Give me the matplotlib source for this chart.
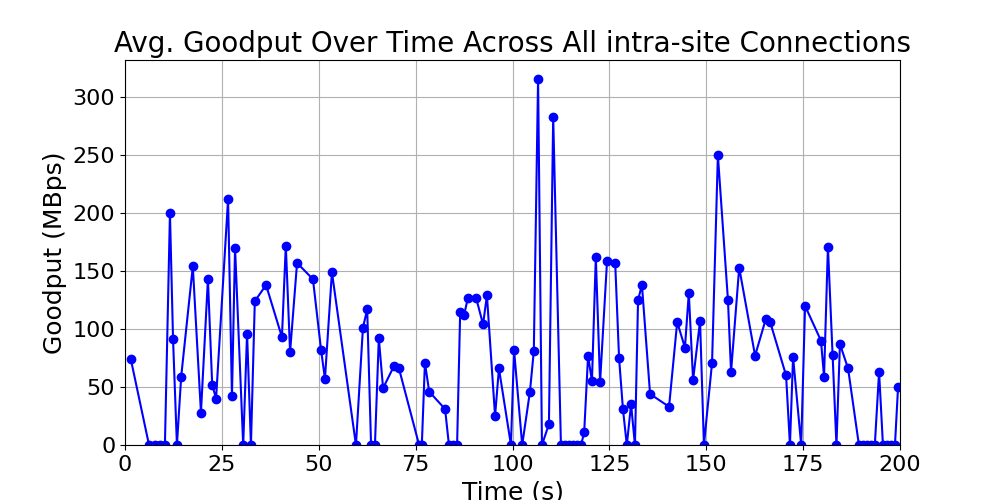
import matplotlib
matplotlib.use("Agg")
import matplotlib.pyplot as plt

# Time (s) and average goodput (MBps)
time_s = [1.5, 6.2, 7.7, 9.0, 10.3, 11.6, 12.4, 13.4, 14.5, 17.5, 19.6, 21.4, 22.5, 23.5,
          26.6, 27.6, 28.4, 30.5, 31.5, 32.5, 33.5, 36.4, 40.5, 41.5, 42.6, 44.4, 48.5,
          50.6, 51.6, 53.4, 59.6, 61.4, 62.5, 63.5, 64.5, 65.5, 66.6, 69.4, 70.7, 75.9,
          76.6, 77.4, 78.5, 82.6, 83.6, 84.6, 85.7, 86.5, 87.5, 88.5, 90.6, 92.4, 93.4,
          95.5, 96.5, 99.6, 100.4, 102.5, 104.5, 105.5, 106.6, 107.6, 109.4, 110.5,
          112.5, 113.5, 114.6, 115.6, 116.6, 117.7, 118.5, 119.5, 120.5, 121.5, 122.6,
          124.4, 126.5, 127.5, 128.5, 129.5, 130.6, 131.6, 132.4, 133.4, 135.5, 140.4,
          142.5, 144.5, 145.5, 146.6, 148.4, 149.4, 151.5, 153.0, 155.6, 156.4, 158.5,
          162.6, 165.4, 166.5, 170.6, 171.6, 172.4, 174.5, 175.5, 179.6, 180.4, 181.4,
          182.6, 183.6, 184.5, 186.6, 189.4, 190.4, 191.5, 192.5, 193.5, 194.6, 195.6,
          196.6, 197.7, 198.7, 199.5]
goodput = [74, 0, 0, 0, 0, 200, 91, 0, 59, 154, 28, 143, 52, 40,
           212, 42, 170, 0, 96, 0, 124, 138, 93, 172, 80, 157, 143,
           82, 57, 149, 0, 101, 117, 0, 0, 92, 49, 68, 66, 0,
           0, 71, 46, 31, 0, 0, 0, 115, 112, 127, 127, 104, 129,
           25, 66, 0, 82, 0, 46, 81, 316, 0, 18, 283,
           0, 0, 0, 0, 0, 0, 11, 77, 55, 162, 54,
           159, 157, 75, 31, 0, 35, 0, 125, 138, 44, 33,
           106, 84, 131, 56, 107, 0, 71, 250, 125, 63, 153,
           77, 109, 106, 60, 0, 76, 0, 120, 90, 59, 171,
           78, 0, 87, 66, 0, 0, 0, 0, 0, 63, 0,
           0, 0, 0, 50]

fig, ax = plt.subplots(figsize=(10, 5), dpi=100)
ax.plot(time_s, goodput, marker='o', color='blue', linewidth=1.5, markersize=6)
ax.set_title("Avg. Goodput Over Time Across All intra-site Connections", fontsize=20)
ax.set_xlabel("Time (s)", fontsize=18)
ax.set_ylabel("Goodput (MBps)", fontsize=18)
ax.tick_params(labelsize=16)
ax.set_xlim(0, 200)
ax.set_ylim(0, 332)
ax.grid(True)
fig.savefig("out.png")
